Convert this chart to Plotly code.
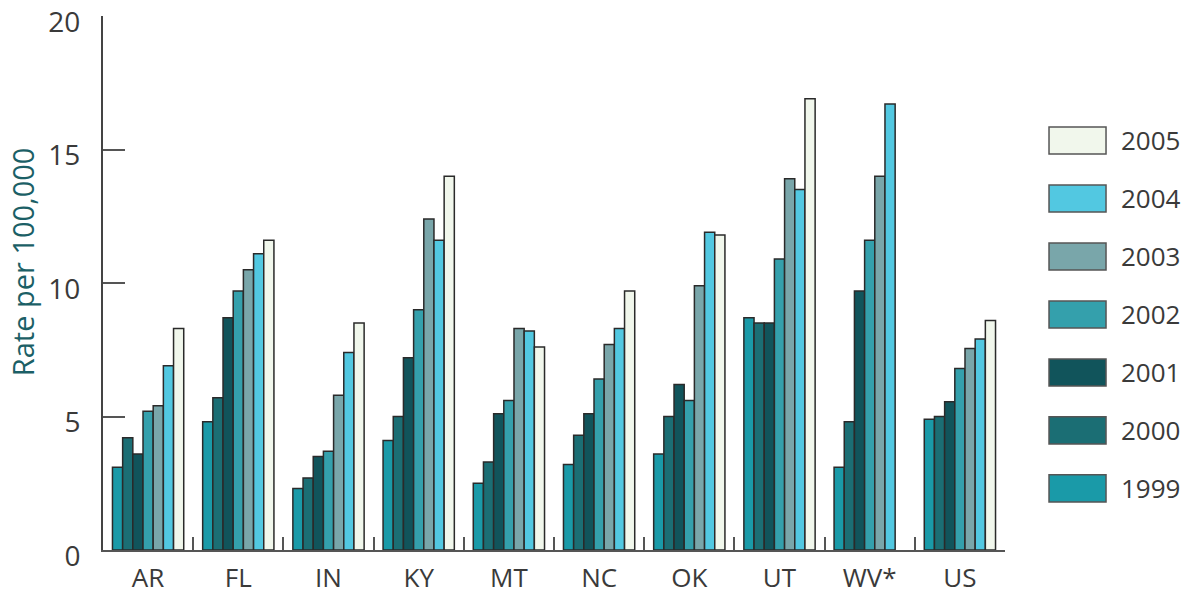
import plotly.graph_objects as go

states = ["AR", "FL", "IN", "KY", "MT", "NC", "OK", "UT", "WV*", "US"]
years = ["1999", "2000", "2001", "2002", "2003", "2004", "2005"]

rate_1999 = [3.1, 4.8, 2.3, 4.1, 2.5, 3.2, 3.6, 8.7, 3.1, 4.9]
rate_2000 = [4.2, 5.7, 2.7, 5.0, 3.3, 4.3, 5.0, 8.5, 4.8, 5.0]
rate_2001 = [3.6, 8.7, 3.5, 7.2, 5.1, 5.1, 6.2, 8.5, 9.7, 5.55]
rate_2002 = [5.2, 9.7, 3.7, 9.0, 5.6, 6.4, 5.6, 10.9, 11.6, 6.8]
rate_2003 = [5.4, 10.5, 5.8, 12.4, 8.3, 7.7, 9.9, 13.9, 14.0, 7.55]
rate_2004 = [6.9, 11.1, 7.4, 11.6, 8.2, 8.3, 11.9, 13.5, 16.7, 7.9]
rate_2005 = [8.3, 11.6, 8.5, 14.0, 7.6, 9.7, 11.8, 16.9, None, 8.6]

series = [rate_1999, rate_2000, rate_2001, rate_2002, rate_2003, rate_2004, rate_2005]
colors = ["#1A9AA8", "#1B6E74", "#11545B", "#34A0AC", "#79A6AA", "#52C8E1", "#F1F7EC"]

FONT = "Open Sans"

fig = go.Figure()
for yr, vals, col in zip(years, series, colors):
    fig.add_trace(go.Bar(
        name=yr, x=states, y=vals,
        marker=dict(color=col, line=dict(color="#2a2a2a", width=1.5)),
        showlegend=False,
    ))

# custom legend: large swatches, top = 2005, bottom = 1999
shapes = []
annotations = []
n = len(years)
top_c, step = 0.767, 0.1086
for i, (yr, col) in enumerate(zip(years, colors)):
    yc = top_c - (n - 1 - i) * step
    shapes.append(dict(type="rect", xref="paper", yref="paper",
                       x0=1.0488, x1=1.1120, y0=yc - 0.0253, y1=yc + 0.0253,
                       fillcolor=col, line=dict(color="#555555", width=1.5)))
    annotations.append(dict(xref="paper", yref="paper", x=1.1264, y=yc,
                            text=yr, showarrow=False, xanchor="left", yanchor="middle",
                            font=dict(family=FONT, size=26, color="#3a3a3a")))

annotations.append(dict(xref="paper", yref="paper", x=-0.0898, y=0.539,
                        text="Rate per 100,000", textangle=-90, showarrow=False,
                        xanchor="center", yanchor="middle",
                        font=dict(family=FONT, size=29, color="#1B5F66")))

fig.update_layout(
    width=1188, height=594,
    margin=dict(l=103, r=183, t=16, b=44),
    plot_bgcolor="white", paper_bgcolor="white",
    barmode="group", bargap=0.21, bargroupgap=0,
    font=dict(family=FONT, size=25, color="#3a3a3a"),
    shapes=shapes, annotations=annotations,
    xaxis=dict(
        automargin=False,
        showline=True, linecolor="#555555", linewidth=2,
        ticks="inside", tickson="boundaries", ticklen=13, tickwidth=2, tickcolor="#555555",
        tickfont=dict(family=FONT, size=26, color="#3a3a3a"),
        ticklabelstandoff=4,
        showgrid=False, zeroline=False,
    ),
    yaxis=dict(
        automargin=False,
        range=[0, 20], tickvals=[0, 5, 10, 15, 20],
        showline=True, linecolor="#444444", linewidth=2,
        ticks="inside", ticklen=22, tickwidth=2, tickcolor="#555555",
        tickfont=dict(family=FONT, size=28, color="#3a3a3a"),
        ticklabeloverflow="allow", ticklabelshift=6, ticklabelstandoff=15,
        showgrid=False, zeroline=False,
    ),
)

fig.write_html("out.html", config={"displayModeBar": False},
               post_script="document.body.style.margin='0px';")
